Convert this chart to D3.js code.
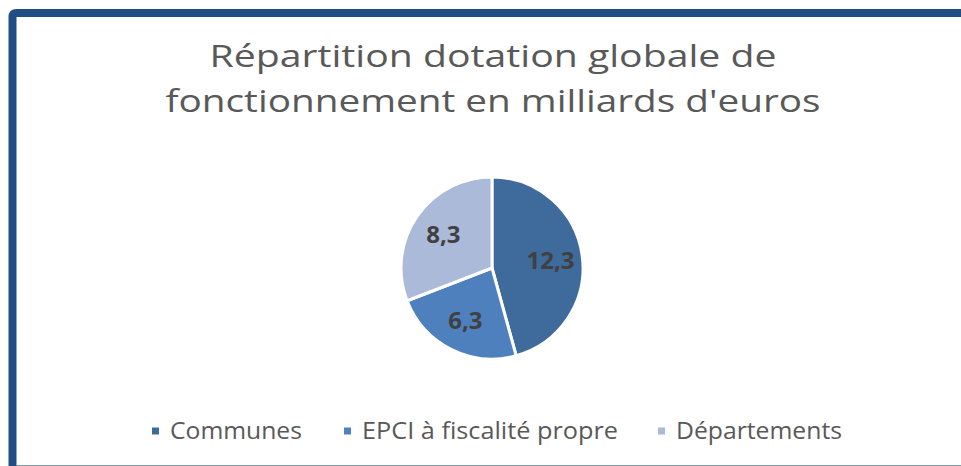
<!DOCTYPE html>
<html><head><meta charset="utf-8">
<script src="https://cdn.jsdelivr.net/npm/d3@7"></script>
<style>html,body{margin:0;padding:0;background:#fff;}svg{display:block;}</style>
</head><body>
<svg id="c" width="961" height="466"></svg>
<script>
const categories = ["Communes", "EPCI à fiscalité propre", "Départements"];
const values = [12.3, 6.3, 8.3];
const labels = ["12,3", "6,3", "8,3"];
const colors = ["#3f6a9c", "#4d80bd", "#aabad8"];
const titleLines = ["Répartition dotation globale de", "fonctionnement en milliards d'euros"];

const svg = d3.select("#c");
const font = "'Open Sans', sans-serif";

// frame
svg.append("path")
  .attr("d", "M12.5,466 V17 Q12.5,13 16.5,13 H961")
  .attr("fill", "none").attr("stroke", "#1f4e85").attr("stroke-width", 8);
svg.append("line").attr("x1", 16).attr("x2", 961).attr("y1", 465.5).attr("y2", 465.5)
  .attr("stroke", "#8497b0").attr("stroke-width", 1);

// title
const titleWidths = [567, 655];
svg.append("g").selectAll("text").data(titleLines).join("text")
  .attr("x", 493).attr("y", (d, i) => 67 + i * 45).attr("text-anchor", "middle")
  .attr("font-family", font).attr("font-size", 31).attr("fill", "#595959")
  .attr("textLength", (d, i) => titleWidths[i]).attr("lengthAdjust", "spacingAndGlyphs")
  .text(d => d);

// pie
const cx = 492, cy = 268, r = 91;
const pie = d3.pie().sort(null).value(d => d);
const arcs = pie(values);
const arc = d3.arc().innerRadius(0).outerRadius(r);
const labelArc = d3.arc().innerRadius(59).outerRadius(59);
const g = svg.append("g").attr("transform", `translate(${cx},${cy})`);
g.selectAll("path").data(arcs).join("path")
  .attr("d", arc).attr("fill", (d, i) => colors[i])
  .attr("stroke", "#fff").attr("stroke-width", 3).attr("stroke-linejoin", "round");
g.selectAll("text").data(arcs).join("text")
  .attr("transform", d => `translate(${labelArc.centroid(d)})`)
  .attr("text-anchor", "middle").attr("dy", "0.36em")
  .attr("font-family", font).attr("font-weight", 700).attr("font-size", 24)
  .attr("fill", "#404040").text((d, i) => labels[i]);

// legend
const legendX = [152, 344, 658];
const legendW = [132, 256, 166];
const lg = svg.append("g");
categories.forEach((c, i) => {
  lg.append("rect").attr("x", legendX[i]).attr("y", 427.5).attr("width", 7).attr("height", 7).attr("fill", colors[i]);
  lg.append("text").attr("x", legendX[i] + 18).attr("y", 438.5)
    .attr("font-family", font).attr("font-size", 23).attr("fill", "#595959")
    .attr("textLength", legendW[i]).attr("lengthAdjust", "spacingAndGlyphs").text(c);
});
</script>
</body></html>
